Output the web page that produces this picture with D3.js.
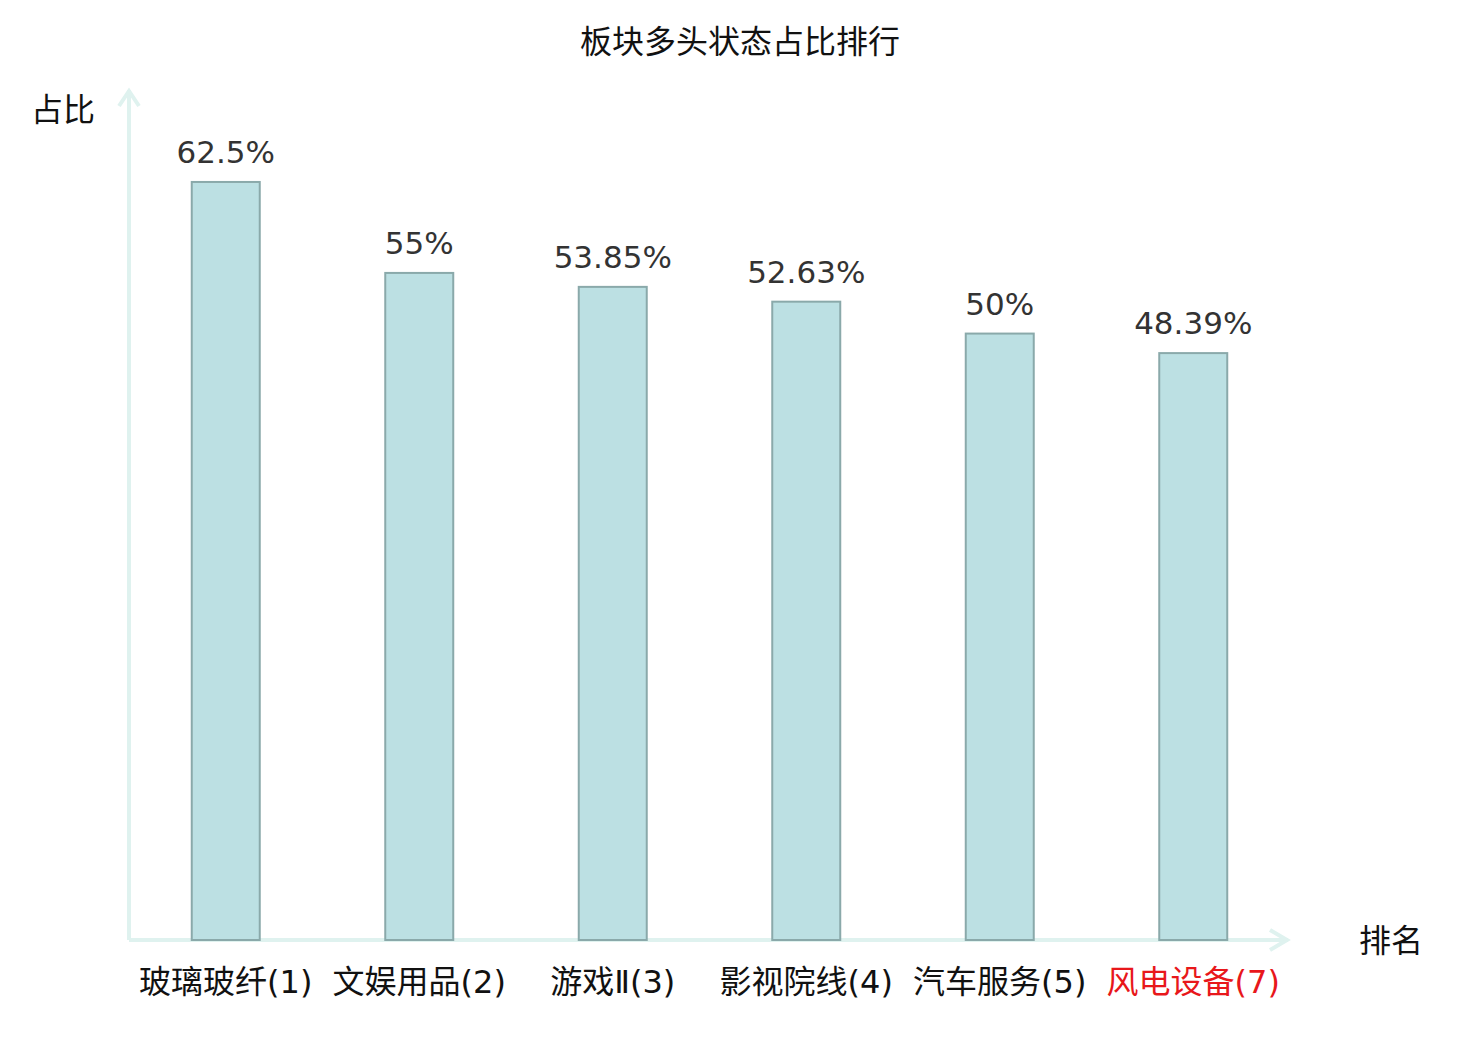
<!DOCTYPE html>
<html>
<head>
<meta charset="utf-8">
<script src="https://cdn.jsdelivr.net/npm/d3@7"></script>
<style>
  body { margin: 0; background: #fff; }
  svg { display: block; font-family: "DejaVu Sans", "Noto Sans CJK SC", sans-serif; }
</style>
</head>
<body>
<svg id="chart" width="1480" height="1040"></svg>
<script>
// data
var categories = ["玻璃玻纤(1)", "文娱用品(2)", "游戏Ⅱ(3)", "影视院线(4)", "汽车服务(5)", "风电设备(7)"];
var values = [62.5, 55, 53.85, 52.63, 50, 48.39];
var highlight = ["风电设备(7)"];

var svg = d3.select("#chart");

var left = 129, right = 1290, bottom = 940;

var x = d3.scaleBand()
	.domain(categories)
	.range([left, right]);

var y = d3.scaleLinear()
	.domain([0, 70])
	.range([bottom, 91]);

var axisColor = "#dff2ef";

// title
svg.append("text")
	.attr("x", 740)
	.attr("y", 44)
	.attr("text-anchor", "middle")
	.attr("dominant-baseline", "middle")
	.style("font-size", "32px")
	.style("fill", "#111")
	.text("板块多头状态占比排行");

// axes with arrows
svg.append("line")
	.attr("x1", left).attr("y1", bottom)
	.attr("x2", left).attr("y2", 90)
	.attr("stroke", axisColor).attr("stroke-width", 4);

svg.append("polyline")
	.attr("points", [[119, 106], [129, 91], [139, 106]].join(" "))
	.attr("fill", "none").attr("stroke", axisColor).attr("stroke-width", 4);

svg.append("line")
	.attr("x1", left).attr("y1", bottom)
	.attr("x2", 1288).attr("y2", bottom)
	.attr("stroke", axisColor).attr("stroke-width", 4);

svg.append("polyline")
	.attr("points", [[1270, 930], [1287, 940], [1270, 950]].join(" "))
	.attr("fill", "none").attr("stroke", axisColor).attr("stroke-width", 4);

// axis names
svg.append("text")
	.attr("x", 63).attr("y", 112)
	.attr("text-anchor", "middle")
	.attr("dominant-baseline", "middle")
	.style("font-size", "32px")
	.style("fill", "#111")
	.text("占比");

svg.append("text")
	.attr("x", 1391).attr("y", 943)
	.attr("text-anchor", "middle")
	.attr("dominant-baseline", "middle")
	.style("font-size", "32px")
	.style("fill", "#111")
	.text("排名");

var barW = 68;

svg.append("g").selectAll("rect")
	.data(categories)
	.enter()
	.append("rect")
	.attr("x", function(d) { return x(d) + x.bandwidth() / 2 - barW / 2; })
	.attr("y", function(d, i) { return y(values[i]); })
	.attr("width", barW)
	.attr("height", function(d, i) { return bottom - y(values[i]); })
	.attr("fill", "#bce0e3")
	.attr("stroke", "#8aa9aa")
	.attr("stroke-width", 2);

svg.append("g").selectAll("text")
	.data(categories)
	.enter()
	.append("text")
	.attr("x", function(d) { return x(d) + x.bandwidth() / 2; })
	.attr("y", function(d, i) { return y(values[i]) - 19; })
	.attr("text-anchor", "middle")
	.style("font-size", "31px")
	.style("fill", "#333")
	.text(function(d, i) { return values[i] + "%"; });

svg.append("g").selectAll("text")
	.data(categories)
	.enter()
	.append("text")
	.attr("x", function(d) { return x(d) + x.bandwidth() / 2; })
	.attr("y", 984)
	.attr("text-anchor", "middle")
	.attr("dominant-baseline", "middle")
	.style("font-size", "32px")
	.style("fill", function(d) { return highlight.indexOf(d) >= 0 ? "#e8171b" : "#111"; })
	.text(function(d) { return d; });
</script>
</body>
</html>
